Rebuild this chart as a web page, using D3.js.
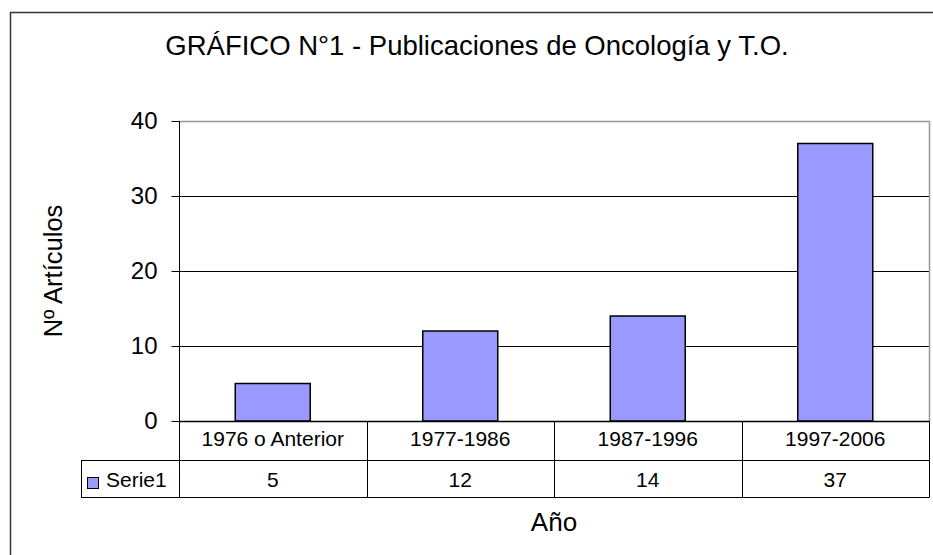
<!DOCTYPE html>
<html>
<head>
<meta charset="utf-8">
<script src="https://cdn.jsdelivr.net/npm/d3@7"></script>
<style>
  body { margin: 0; background: #fff; }
  text { font-family: "Liberation Sans", Arial, sans-serif; fill: #000; }
</style>
</head>
<body>
<div id="chart"></div>
<script>
// chart values
const categories = ["1976 o Anterior", "1977-1986", "1987-1996", "1997-2006"];
const values = [5, 12, 14, 37];
const seriesName = "Serie1";
const yTicks = [0, 10, 20, 30, 40];

const W = 933, H = 555;
const plot = {left: 179, right: 929, top: 121, bottom: 421};
const rowH = [39, 37];
const legendLeft = 81;

const svg = d3.select("#chart")
  .append("svg")
    .attr("width", W)
    .attr("height", H);

// outer frame
svg.append("rect")
  .attr("x", 10.5).attr("y", 12.5)
  .attr("width", 960).attr("height", 580)
  .attr("fill", "#fff")
  .attr("stroke", "#333")
  .attr("stroke-width", 1.5);

// title
svg.append("text")
  .attr("x", 477).attr("y", 55)
  .attr("text-anchor", "middle")
  .style("font-size", "27.5px")
  .text("GRÁFICO N°1 - Publicaciones de Oncología y T.O.");

const xScale = d3.scaleBand()
  .domain(categories)
  .range([plot.left, plot.right])
  .paddingInner(0.6)
  .paddingOuter(0.3);

const colScale = d3.scaleBand()
  .domain(categories)
  .range([plot.left, plot.right]);

const yScale = d3.scaleLinear()
  .domain([0, 40])
  .range([plot.bottom, plot.top]);

// gridlines
svg.append("g")
  .selectAll("line")
  .data(yTicks.filter(d => d > 0 && d < 40))
  .enter()
  .append("line")
    .attr("x1", plot.left).attr("x2", plot.right)
    .attr("y1", d => Math.round(yScale(d)) + 0.5)
    .attr("y2", d => Math.round(yScale(d)) + 0.5)
    .attr("stroke", "#000");

// plot area border (gray)
svg.append("path")
  .attr("d", `M${plot.left},${plot.top + 0.5}H${plot.right + 0.5}V${plot.bottom}`)
  .attr("fill", "none")
  .attr("stroke", "#999")
  .attr("stroke-width", 1.5);

// bars
svg.append("g")
  .selectAll("rect")
  .data(values)
  .enter()
  .append("rect")
    .attr("x", (d, i) => xScale(categories[i]))
    .attr("y", d => yScale(d))
    .attr("width", xScale.bandwidth())
    .attr("height", d => yScale(0) - yScale(d))
    .attr("fill", "#9999FF")
    .attr("stroke", "#000")
    .attr("stroke-width", 1.5);

// y axis
const yAxis = svg.append("g")
  .attr("transform", `translate(${plot.left + 0.5},0)`)
  .call(d3.axisLeft(yScale).tickValues(yTicks).tickSize(8).tickPadding(14).tickSizeOuter(0));
yAxis.select(".domain").remove();
yAxis.selectAll(".tick line").attr("stroke", "#000");
yAxis.selectAll(".tick text")
  .style("font-size", "24px")
  .attr("font-family", null);

svg.append("line")
  .attr("x1", plot.left + 0.5).attr("x2", plot.left + 0.5)
  .attr("y1", plot.top).attr("y2", plot.bottom + rowH[0] + rowH[1])
  .attr("stroke", "#000");

// data table
const t0 = plot.bottom, t1 = t0 + rowH[0], t2 = t1 + rowH[1];
const table = svg.append("g").attr("stroke", "#000").attr("stroke-width", 1);
table.append("line").attr("x1", plot.left).attr("x2", plot.right + 0.5).attr("y1", t0 + 0.5).attr("y2", t0 + 0.5).attr("stroke-width", 1.5);
table.append("line").attr("x1", legendLeft).attr("x2", plot.right + 0.5).attr("y1", t1 + 0.5).attr("y2", t1 + 0.5);
table.append("line").attr("x1", legendLeft).attr("x2", plot.right + 0.5).attr("y1", t2 + 0.5).attr("y2", t2 + 0.5);
table.append("line").attr("x1", legendLeft + 0.5).attr("x2", legendLeft + 0.5).attr("y1", t1).attr("y2", t2 + 0.5);
table.selectAll(".sep")
  .data(categories.slice(1).concat([null]))
  .enter()
  .append("line")
    .attr("class", "sep")
    .attr("x1", d => d ? Math.round(colScale(d)) + 0.5 : plot.right + 0.5)
    .attr("x2", d => d ? Math.round(colScale(d)) + 0.5 : plot.right + 0.5)
    .attr("y1", t0).attr("y2", t2 + 0.5);

svg.append("g")
  .selectAll("text")
  .data(categories)
  .enter()
  .append("text")
    .attr("x", d => colScale(d) + colScale.bandwidth() / 2)
    .attr("y", t1 - 14)
    .attr("text-anchor", "middle")
    .style("font-size", "21px")
    .text(d => d);

svg.append("g")
  .selectAll("text")
  .data(values)
  .enter()
  .append("text")
    .attr("x", (d, i) => colScale(categories[i]) + colScale.bandwidth() / 2)
    .attr("y", t2 - 10)
    .attr("text-anchor", "middle")
    .style("font-size", "21px")
    .text(d => d);

// legend key in table
svg.append("rect")
  .attr("x", 87.5).attr("y", 477.5)
  .attr("width", 11).attr("height", 11)
  .attr("fill", "#9999FF")
  .attr("stroke", "#000");
svg.append("text")
  .attr("x", 106).attr("y", t2 - 10)
  .style("font-size", "21px")
  .text(seriesName);

// axis titles
svg.append("text")
  .attr("x", (plot.left + plot.right) / 2)
  .attr("y", 531)
  .attr("text-anchor", "middle")
  .style("font-size", "26px")
  .text("Año");

svg.append("text")
  .attr("transform", `translate(62,${(plot.top + plot.bottom) / 2}) rotate(-90)`)
  .attr("text-anchor", "middle")
  .style("font-size", "25.5px")
  .text("Nº Artículos");
</script>
</body>
</html>
